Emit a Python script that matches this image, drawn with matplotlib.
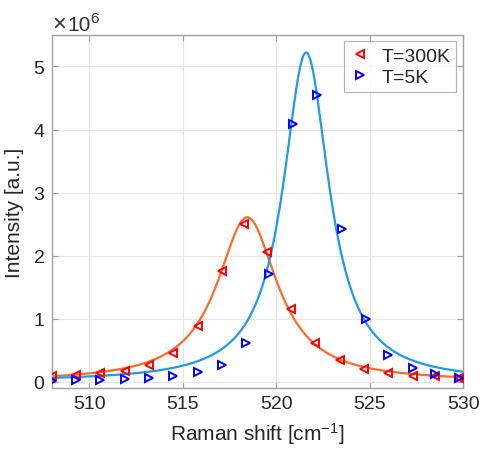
import numpy as np
import matplotlib
matplotlib.use("Agg")
import matplotlib.pyplot as plt
from matplotlib.ticker import ScalarFormatter
from matplotlib.transforms import offset_copy

plt.rcParams['font.family'] = ['Liberation Sans', 'DejaVu Sans']
plt.rcParams['mathtext.fontset'] = 'custom'
plt.rcParams['mathtext.rm'] = 'Liberation Sans'
plt.rcParams['mathtext.it'] = 'Liberation Sans'

# measured points
x_300 = [508.0, 509.3, 510.6, 511.9, 513.2, 514.5, 515.8, 517.1, 518.3,
         519.5, 520.8, 522.1, 523.4, 524.7, 526.0, 527.3, 528.5, 529.8]
y_300 = [0.10, 0.115, 0.14, 0.17, 0.27, 0.45, 0.89, 1.76, 2.50,
         2.06, 1.155, 0.61, 0.34, 0.21, 0.14, 0.10, 0.085, 0.065]
x_5 = [508.0, 509.3, 510.6, 511.9, 513.2, 514.5, 515.8, 517.1, 518.4,
       519.6, 520.9, 522.2, 523.5, 524.8, 526.0, 527.3, 528.5, 529.8]
y_5 = [0.02, 0.03, 0.03, 0.05, 0.06, 0.095, 0.15, 0.27, 0.61,
       1.71, 4.08, 4.54, 2.42, 1.00, 0.43, 0.22, 0.13, 0.065]

# Lorentzian fit parameters (center, HWHM, amplitude), intensities in 1e6
fit_300 = (518.45, 1.97, 2.61)
fit_5 = (521.6, 1.5, 5.22)

labels = ['T=300K', 'T=5K']
xticks = [510, 515, 520, 525, 530]
yticks = [0, 1, 2, 3, 4, 5]
scale = 1e6


def lorentz(x, p):
    x0, g, a = p
    return a * g**2 / ((x - x0)**2 + g**2)


fig = plt.figure(figsize=(4.8, 4.6), dpi=100)
ax = fig.add_axes([0.108, 0.154, 0.857, 0.768])

xf = np.linspace(508, 530, 600)
ax.plot(xf, lorentz(xf, fit_300) * scale, color='#FF6A2A', lw=1.6, zorder=2)
ax.plot(xf, lorentz(xf, fit_5) * scale, color='#1E9BEA', lw=1.6, zorder=2)

ax.plot(x_300, np.array(y_300) * scale, ls='none', marker='<', ms=6,
        mfc='none', mec='red', mew=1.4, label=labels[0], zorder=3)
ax.plot(x_5, np.array(y_5) * scale, ls='none', marker='>', ms=6,
        mfc='none', mec='blue', mew=1.4, label=labels[1], zorder=3)

ax.set_xlim(508, 530)
ax.set_ylim(-0.1e6, 5.5e6)
ax.set_xticks(xticks)
ax.set_yticks([v * scale for v in yticks])

fmt = ScalarFormatter(useMathText=True)
fmt.set_powerlimits((0, 0))
ax.yaxis.set_major_formatter(fmt)
ax.yaxis.get_offset_text().set_visible(False)

ax.grid(True, color='#e6e6e6', lw=0.8)
ax.set_axisbelow(True)
for s in ax.spines.values():
    s.set_color('#a0a0a0')
    s.set_linewidth(1.0)
ax.tick_params(direction='in', top=True, right=True, length=4,
               color='#a0a0a0', labelsize=14, labelcolor='#262626', pad=5)

# exponent label drawn as in the reference
exp_parts = [('\u00d7', 17, 1, 0), ('10', 15, 16, 0), ('6', 11, 38, 8)]
for txt, size, dx, dy in exp_parts:
    tr = offset_copy(ax.transAxes, fig=fig, x=dx, y=dy, units='dots')
    ax.text(0.0, 1.015, txt, transform=tr, fontsize=size, color='#333333',
            ha='left', va='baseline')

ax.set_xlabel('Raman shift [cm$^{-1}$]', fontsize=15, color='#262626',
              labelpad=6)
ax.set_ylabel('Intensity [a.u.]', fontsize=15, color='#262626', labelpad=6)

leg = ax.legend(loc='upper right', fontsize=14, frameon=True, fancybox=False,
                edgecolor='#a0a0a0', handlelength=1.0, handletextpad=0.6,
                borderpad=0.3, labelspacing=0.2, borderaxespad=0.0,
                bbox_to_anchor=(0.983, 0.982))
leg.get_frame().set_linewidth(0.8)
for t in leg.get_texts():
    t.set_color('#262626')

fig.savefig('out.png', dpi=100)
